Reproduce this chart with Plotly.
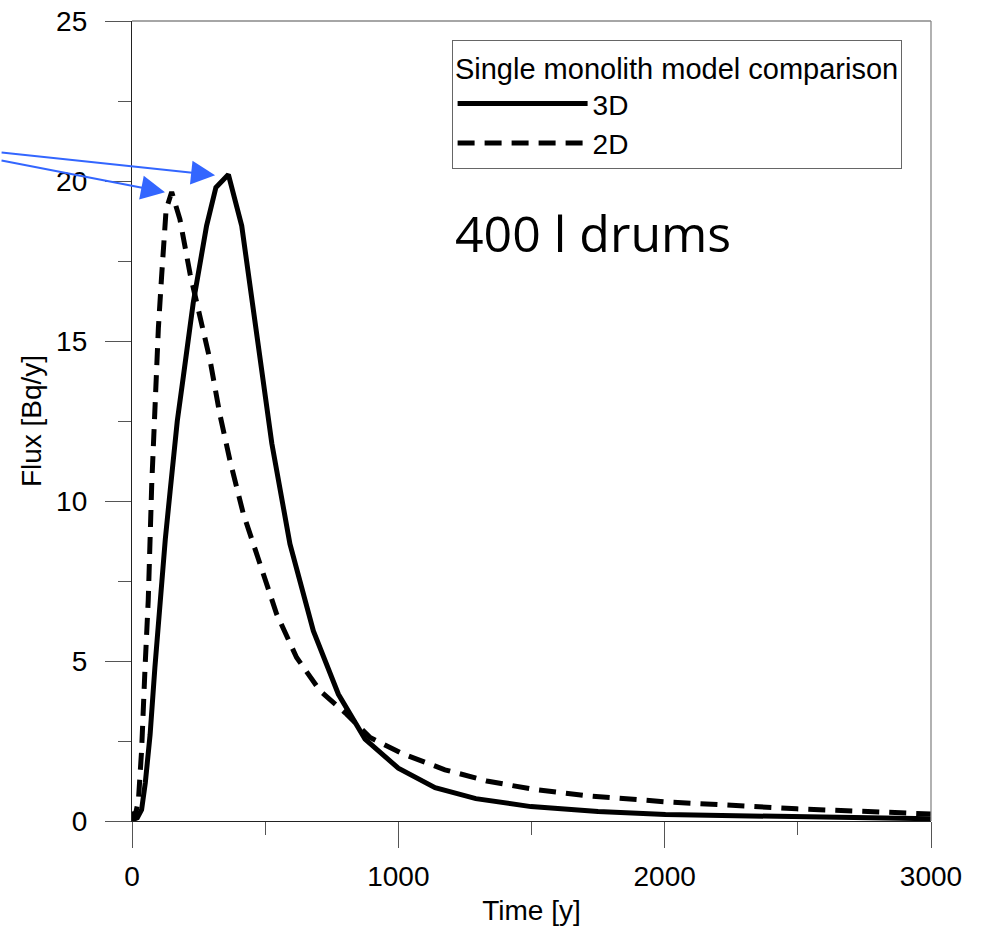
import plotly.graph_objects as go

# 3D model (solid)
t_3d = [0, 5, 20, 36, 50, 68, 86, 105, 125, 143, 170, 193, 230, 280, 315, 362, 412,
        525, 593, 681, 775, 875, 1000, 1138, 1291, 1498, 1750, 2003, 2500, 3000]
flux_3d = [0.3, 0.05, 0.1, 0.35, 1.2, 2.7, 4.8, 6.9, 8.8, 10.3, 12.5, 13.9, 16.2, 18.6, 19.8, 20.2, 18.6,
           11.8, 8.66, 5.94, 3.96, 2.56, 1.65, 1.04, 0.7, 0.45, 0.3, 0.2, 0.12, 0.07]

# 2D model (dashed)
t_2d = [0, 10, 24, 36, 49, 61, 74, 83, 90, 99, 111, 118, 128, 149, 180, 218, 249, 293, 330,
        368, 418, 481, 543, 618, 706, 806, 894, 1019, 1175, 1332, 1500, 1705, 2003, 2496, 3000]
flux_2d = [0.25, 0.1, 0.63, 2.2, 4.8, 6.9, 10.5, 12.3, 13.9, 15.4, 17.0, 17.9, 19.1, 19.66, 18.8, 17.1, 16.0, 14.4, 12.7,
           11.26, 9.6, 8.03, 6.47, 5.11, 4.07, 3.34, 2.61, 2.09, 1.6, 1.25, 1.0, 0.79, 0.6, 0.38, 0.22]

x_ticks = [0, 1000, 2000, 3000]
y_ticks = [0, 5, 10, 15, 20, 25]

FONT = "Liberation Sans, Arial, sans-serif"

fig = go.Figure()
fig.add_trace(go.Scatter(x=t_3d, y=flux_3d, mode="lines", name="3D",
                         line=dict(color="black", width=5)))
fig.add_trace(go.Scatter(x=t_2d, y=flux_2d, mode="lines", name="2D",
                         line=dict(color="black", width=5, dash="17px,10px")))

axis_common = dict(
    showgrid=False, zeroline=False, showline=True, linecolor="#222", linewidth=1.3,
    ticks="outside", ticklen=26, tickwidth=1.3, tickcolor="#555", automargin=False,
    tickfont=dict(family=FONT, size=28, color="black"),
)

fig.update_xaxes(range=[0, 3000], tickvals=x_ticks, ticktext=[str(v) for v in x_ticks],
                 minor=dict(ticks="outside", ticklen=13, tickwidth=1.3, tickcolor="#555", dtick=500, tick0=0),
                 title=dict(text="Time [y]", font=dict(family=FONT, size=28, color="black"), standoff=14),
                 ticklabelstandoff=4,
                 **axis_common)
fig.update_yaxes(range=[0, 25], tickvals=y_ticks, ticktext=[str(v) for v in y_ticks],
                 minor=dict(ticks="outside", ticklen=13, tickwidth=1.3, tickcolor="#555", dtick=2.5, tick0=0),
                 title=dict(text="Flux [Bq/y]", font=dict(family=FONT, size=28, color="black"), standoff=6),
                 ticklabelstandoff=12,
                 **axis_common)

# top and right frame lines
fig.add_shape(type="line", xref="paper", yref="paper", x0=0, x1=1, y0=1, y1=1,
              line=dict(color="#888", width=1.3))
fig.add_shape(type="line", xref="paper", yref="paper", x0=1, x1=1, y0=0, y1=1,
              line=dict(color="#888", width=1.3))

# arrows to peaks
fig.add_annotation(x=312, y=20.18, ax=-215, ay=-23, axref="pixel", ayref="pixel",
                   showarrow=True, arrowhead=2, arrowsize=2.4, arrowwidth=2, arrowcolor="#3366FF", text="")
fig.add_annotation(x=124, y=19.65, ax=-165, ay=-32, axref="pixel", ayref="pixel",
                   showarrow=True, arrowhead=2, arrowsize=2.4, arrowwidth=2, arrowcolor="#3366FF", text="")

fig.add_annotation(text="400 l drums", xref="paper", yref="paper", x=0.577, y=0.735,
                   xanchor="center", yanchor="middle", showarrow=False,
                   font=dict(family="Open Sans, sans-serif", size=50, color="black"))

fig.update_layout(
    width=982, height=926,
    margin=dict(l=132, r=51, t=21, b=105),
    paper_bgcolor="white", plot_bgcolor="white",
    showlegend=True,
    legend=dict(
        x=0.400, y=0.976, xanchor="left", yanchor="top",
        title=dict(text="Single monolith model comparison", side="top center",
                   font=dict(family=FONT, size=29, color="black")),
        font=dict(family=FONT, size=28, color="black"),
        bordercolor="#666", borderwidth=1, bgcolor="white",
        itemwidth=130, tracegroupgap=0,
    ),
)

fig.write_html("out.html", config={"displayModeBar": False},
               post_script="document.body.style.margin='0';")
